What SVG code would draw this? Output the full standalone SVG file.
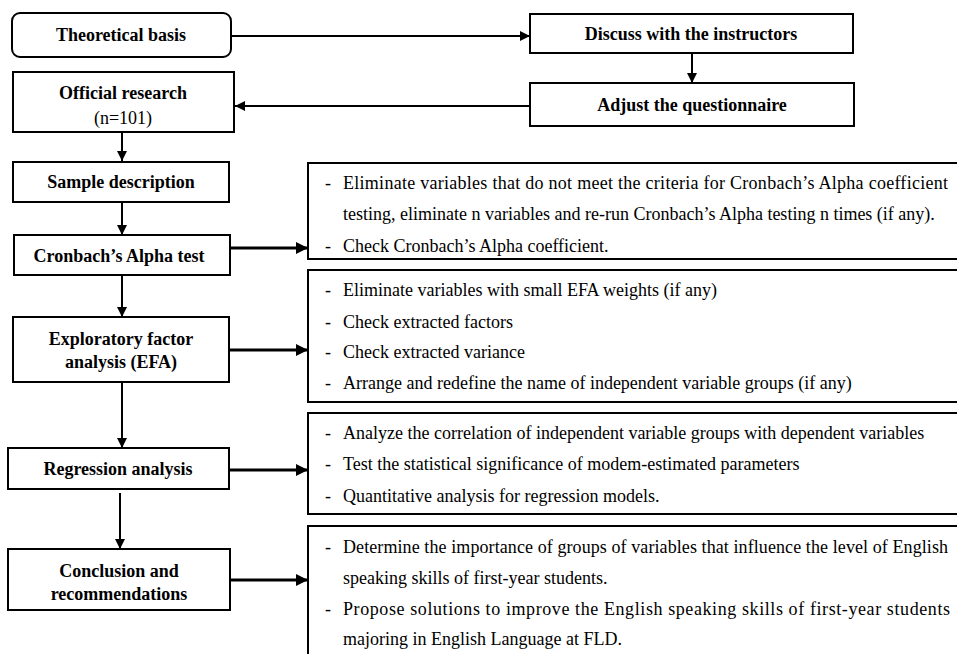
<svg xmlns="http://www.w3.org/2000/svg" width="957" height="654" viewBox="0 0 957 654">
<defs>
<style>
.box{fill:#fff;stroke:#000;stroke-width:2}
.t{font-family:"Liberation Serif","Times New Roman",serif;font-size:18px;font-weight:bold;text-anchor:middle;fill:#000}
.tn{font-family:"Liberation Serif","Times New Roman",serif;font-size:18px;text-anchor:middle;fill:#000}
.b{font-family:"Liberation Serif","Times New Roman",serif;font-size:18px;fill:#000}
.c{stroke:#000;stroke-width:2;fill:none}
.ct{stroke:#000;stroke-width:3;fill:none}
</style>
<marker id="ah" markerWidth="10" markerHeight="10" refX="10" refY="5" orient="auto" markerUnits="userSpaceOnUse">
<path d="M0,0 L10,5 L0,10 Z" fill="#000"/>
</marker>
<marker id="ah2" markerWidth="12" markerHeight="12" refX="12" refY="6" orient="auto" markerUnits="userSpaceOnUse">
<path d="M0,0 L12,6 L0,12 Z" fill="#000"/>
</marker>
</defs>
<rect width="957" height="654" fill="#fff"/>

<g id="connectors">
<line class="c" x1="231" y1="36" x2="530" y2="36" marker-end="url(#ah)"/>
<line class="c" x1="692" y1="53" x2="692" y2="83" marker-end="url(#ah)"/>
<line class="c" x1="530" y1="106" x2="235" y2="106" marker-end="url(#ah)"/>
<line class="c" x1="122" y1="133" x2="122" y2="161" marker-end="url(#ah)"/>
<line class="c" x1="122" y1="202" x2="122" y2="235" marker-end="url(#ah)"/>
<line class="c" x1="122" y1="275" x2="122" y2="317" marker-end="url(#ah)"/>
<line class="c" x1="122" y1="382" x2="122" y2="448" marker-end="url(#ah)"/>
<line class="c" x1="120" y1="493" x2="120" y2="549" marker-end="url(#ah)"/>
<line class="ct" x1="230" y1="248" x2="308" y2="248" marker-end="url(#ah2)"/>
<line class="ct" x1="229" y1="350" x2="308" y2="350" marker-end="url(#ah2)"/>
<line class="ct" x1="229" y1="470" x2="308" y2="470" marker-end="url(#ah2)"/>
<line class="ct" x1="230" y1="580" x2="308" y2="580" marker-end="url(#ah2)"/>
</g>

<g id="theoretical">
<rect class="box" x="12" y="13" width="219" height="44" rx="8"/>
<text class="t" x="121" y="41">Theoretical basis</text>
</g>
<g id="discuss">
<rect class="box" x="530" y="14" width="323" height="39"/>
<text class="t" x="691" y="40">Discuss with the instructors</text>
</g>
<g id="adjust">
<rect class="box" x="530" y="83" width="324" height="43"/>
<text class="t" x="692" y="111">Adjust the questionnaire</text>
</g>
<g id="official">
<rect class="box" x="13" y="72" width="221" height="60"/>
<text class="t" x="123" y="99">Official research</text>
<text class="tn" x="123" y="124">(n=101)</text>
</g>
<g id="sample">
<rect class="box" x="13" y="162" width="216" height="40"/>
<text class="t" x="121" y="188">Sample description</text>
</g>
<g id="cronbach">
<rect class="box" x="14" y="235" width="216" height="40"/>
<text class="t" x="119" y="262">Cronbach’s Alpha test</text>
</g>
<g id="efa">
<rect class="box" x="13" y="317" width="216" height="65"/>
<text class="t" x="121" y="345">Exploratory factor</text>
<text class="t" x="121" y="368">analysis (EFA)</text>
</g>
<g id="regression">
<rect class="box" x="8" y="448" width="221" height="41"/>
<text class="t" x="118" y="475">Regression analysis</text>
</g>
<g id="conclusion">
<rect class="box" x="8" y="549" width="222" height="61"/>
<text class="t" x="119" y="577">Conclusion and</text>
<text class="t" x="119" y="600">recommendations</text>
</g>

<g id="cronbach-details">
<rect class="box" x="308" y="163" width="660" height="96"/>
<text class="b" x="325" y="189">-</text>
<text class="b" x="343" y="189" textLength="605" lengthAdjust="spacing">Eliminate variables that do not meet the criteria for Cronbach’s Alpha coefficient</text>
<text class="b" x="343" y="220">testing, eliminate n variables and re-run Cronbach’s Alpha testing n times (if any).</text>
<text class="b" x="325" y="252">-</text>
<text class="b" x="343" y="252">Check Cronbach’s Alpha coefficient.</text>
</g>
<g id="efa-details">
<rect class="box" x="308" y="270" width="660" height="132"/>
<text class="b" x="325" y="296">-</text>
<text class="b" x="343" y="296">Eliminate variables with small EFA weights (if any)</text>
<text class="b" x="325" y="328">-</text>
<text class="b" x="343" y="328">Check extracted factors</text>
<text class="b" x="325" y="358">-</text>
<text class="b" x="343" y="358">Check extracted variance</text>
<text class="b" x="325" y="389">-</text>
<text class="b" x="343" y="389">Arrange and redefine the name of independent variable groups (if any)</text>
</g>
<g id="regression-details">
<rect class="box" x="308" y="413" width="660" height="101"/>
<text class="b" x="325" y="439">-</text>
<text class="b" x="343" y="439">Analyze the correlation of independent variable groups with dependent variables</text>
<text class="b" x="325" y="470">-</text>
<text class="b" x="343" y="470">Test the statistical significance of modem-estimated parameters</text>
<text class="b" x="325" y="502">-</text>
<text class="b" x="343" y="502">Quantitative analysis for regression models.</text>
</g>
<g id="conclusion-details">
<rect class="box" x="308" y="526" width="660" height="140"/>
<text class="b" x="325" y="553">-</text>
<text class="b" x="343" y="553" textLength="605" lengthAdjust="spacing">Determine the importance of groups of variables that influence the level of English</text>
<text class="b" x="343" y="584">speaking skills of first-year students.</text>
<text class="b" x="325" y="615">-</text>
<text class="b" x="343" y="615" textLength="607" lengthAdjust="spacing">Propose solutions to improve the English speaking skills of first-year students</text>
<text class="b" x="343" y="645">majoring in English Language at FLD.</text>
</g>
</svg>
